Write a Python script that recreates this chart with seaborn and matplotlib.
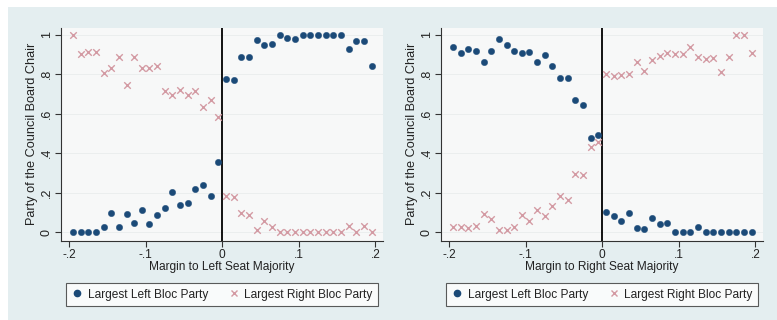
import numpy as np
import pandas as pd
import matplotlib
matplotlib.use("Agg")
import matplotlib.pyplot as plt
from matplotlib.patches import Rectangle
from matplotlib.lines import Line2D
import seaborn as sns

sns.set_style("white")
plt.rcParams['font.family'] = ['Liberation Sans', 'DejaVu Sans']

# bin centres (margin), 0.01-wide bins from -0.2 to 0.2
margin = [round(-0.195 + 0.01 * i, 3) for i in range(40)]

# Left panel: margin to left seat majority
left_left = [0, 0, 0, 0, 0.027, 0.097, 0.026, 0.092, 0.046, 0.113,
             0.043, 0.089, 0.123, 0.205, 0.139, 0.150, 0.221, 0.238, 0.186, 0.356,
             0.774, 0.770, 0.889, 0.885, 0.973, 0.946, 0.954, 1.0, 0.985, 0.980,
             1.0, 1.0, 1.0, 1.0, 1.0, 1.0, 0.926, 0.970, 0.966, 0.843]
left_right = [1.0, 0.902, 0.911, 0.911, 0.808, 0.831, 0.889, 0.743, 0.885, 0.831,
              0.831, 0.841, 0.713, 0.693, 0.720, 0.693, 0.713, 0.635, 0.668, 0.586,
              0.183, 0.179, 0.097, 0.087, 0.012, 0.055, 0.029, 0, 0, 0,
              0, 0, 0, 0, 0, 0, 0.032, 0, 0.032, 0]

# Right panel: margin to right seat majority
right_left = [0.939, 0.909, 0.927, 0.916, 0.862, 0.916, 0.980, 0.946, 0.916, 0.909,
              0.911, 0.862, 0.897, 0.840, 0.779, 0.782, 0.669, 0.644, 0.477, 0.492,
              0.101, 0.082, 0.055, 0.097, 0.024, 0.019, 0.074, 0.043, 0.046, 0,
              0, 0, 0.029, 0, 0, 0, 0, 0, 0, 0]
right_right = [0.029, 0.029, 0.021, 0.034, 0.094, 0.065, 0.014, 0.014, 0.029, 0.087,
               0.058, 0.111, 0.080, 0.135, 0.185, 0.166, 0.297, 0.292, 0.430, 0.455,
               0.799, 0.792, 0.794, 0.802, 0.863, 0.818, 0.872, 0.890, 0.905, 0.902,
               0.902, 0.939, 0.887, 0.878, 0.884, 0.811, 0.887, 0.998, 0.998, 0.907]

series_names = ["Largest Left Bloc Party", "Largest Right Bloc Party"]
x_titles = ["Margin to Left Seat Majority", "Margin to Right Seat Majority"]
y_title = "Party of the Council Board Chair"
xticks = [-0.2, -0.1, 0, 0.1, 0.2]
xticklabels = ["-.2", "-.1", "0", ".1", ".2"]
yticks = [0, 0.2, 0.4, 0.6, 0.8, 1.0]
yticklabels = ["0", ".2", ".4", ".6", ".8", "1"]

navy = "#1b4a78"
pink = "#d39aa3"
outer_bg = "#e4eef0"
inner_bg = "#f7f8f8"
txt = "#222222"

fig = plt.figure(figsize=(7.77, 3.2), dpi=100)
fig.patch.set_facecolor("white")
fig.patches.append(Rectangle((8 / 777, 0), 1 - 8 / 777, 1 - 7 / 320,
                             transform=fig.transFigure, facecolor=outer_bg,
                             edgecolor="none", zorder=-10))

panels = [(left_left, left_right), (right_left, right_right)]
lefts = [61 / 777, 441 / 777]
for p, ((sl, sr), xl) in enumerate(zip(panels, lefts)):
    ax = fig.add_axes([xl, 1 - 240.7 / 320, 322 / 777, 212.7 / 320])
    ax.set_facecolor(inner_bg)
    df = pd.DataFrame({"margin": margin, "left": sl, "right": sr})
    for yv in yticks:
        ax.axhline(yv, color="#e9eded", lw=0.6, zorder=0)
    ax.axvline(0, color="black", lw=1.3, zorder=1)
    sns.scatterplot(data=df, x="margin", y="left", ax=ax, color=navy,
                    marker="o", s=21, edgecolor=navy, linewidth=0.3, zorder=3)
    sns.scatterplot(data=df, x="margin", y="right", ax=ax, color=pink,
                    marker="x", s=22, linewidth=1.0, zorder=3)
    ax.set_xlim(-0.2105, 0.2098)
    ax.set_ylim(-0.0425, 1.034)
    ax.set_xticks(xticks)
    ax.set_xticklabels(xticklabels, fontsize=8.6, color=txt)
    ax.set_yticks(yticks)
    ax.set_yticklabels(yticklabels, fontsize=9, color=txt, rotation=90,
                       va="center")
    ax.tick_params(axis="both", direction="out", length=4, width=0.8,
                   color="#333333", pad=2, left=True, bottom=True)
    ax.set_xlabel(x_titles[p], fontsize=8.6, color=txt, labelpad=0)
    ax.set_ylabel(y_title, fontsize=9.2, color=txt, labelpad=2)
    for s in ["top", "right"]:
        ax.spines[s].set_visible(False)
    for s in ["left", "bottom"]:
        ax.spines[s].set_color("#333333")
        ax.spines[s].set_linewidth(0.8)
    handles = [Line2D([], [], marker="o", color=navy, linestyle="none",
                      markersize=4.5),
               Line2D([], [], marker="x", color=pink, linestyle="none",
                      markersize=4.5, markeredgewidth=1.0)]
    leg = ax.legend(handles, series_names, ncol=2, loc="upper center",
                    bbox_to_anchor=(0.5, -0.172), frameon=True, fancybox=False,
                    fontsize=8.6, handlelength=1.0, handletextpad=0.4,
                    columnspacing=1.6, borderpad=0.45, labelcolor=txt)
    leg.get_frame().set_edgecolor("#333333")
    leg.get_frame().set_linewidth(0.8)
    leg.get_frame().set_facecolor("white")

fig.savefig("out.png", dpi=100, facecolor=fig.get_facecolor())
